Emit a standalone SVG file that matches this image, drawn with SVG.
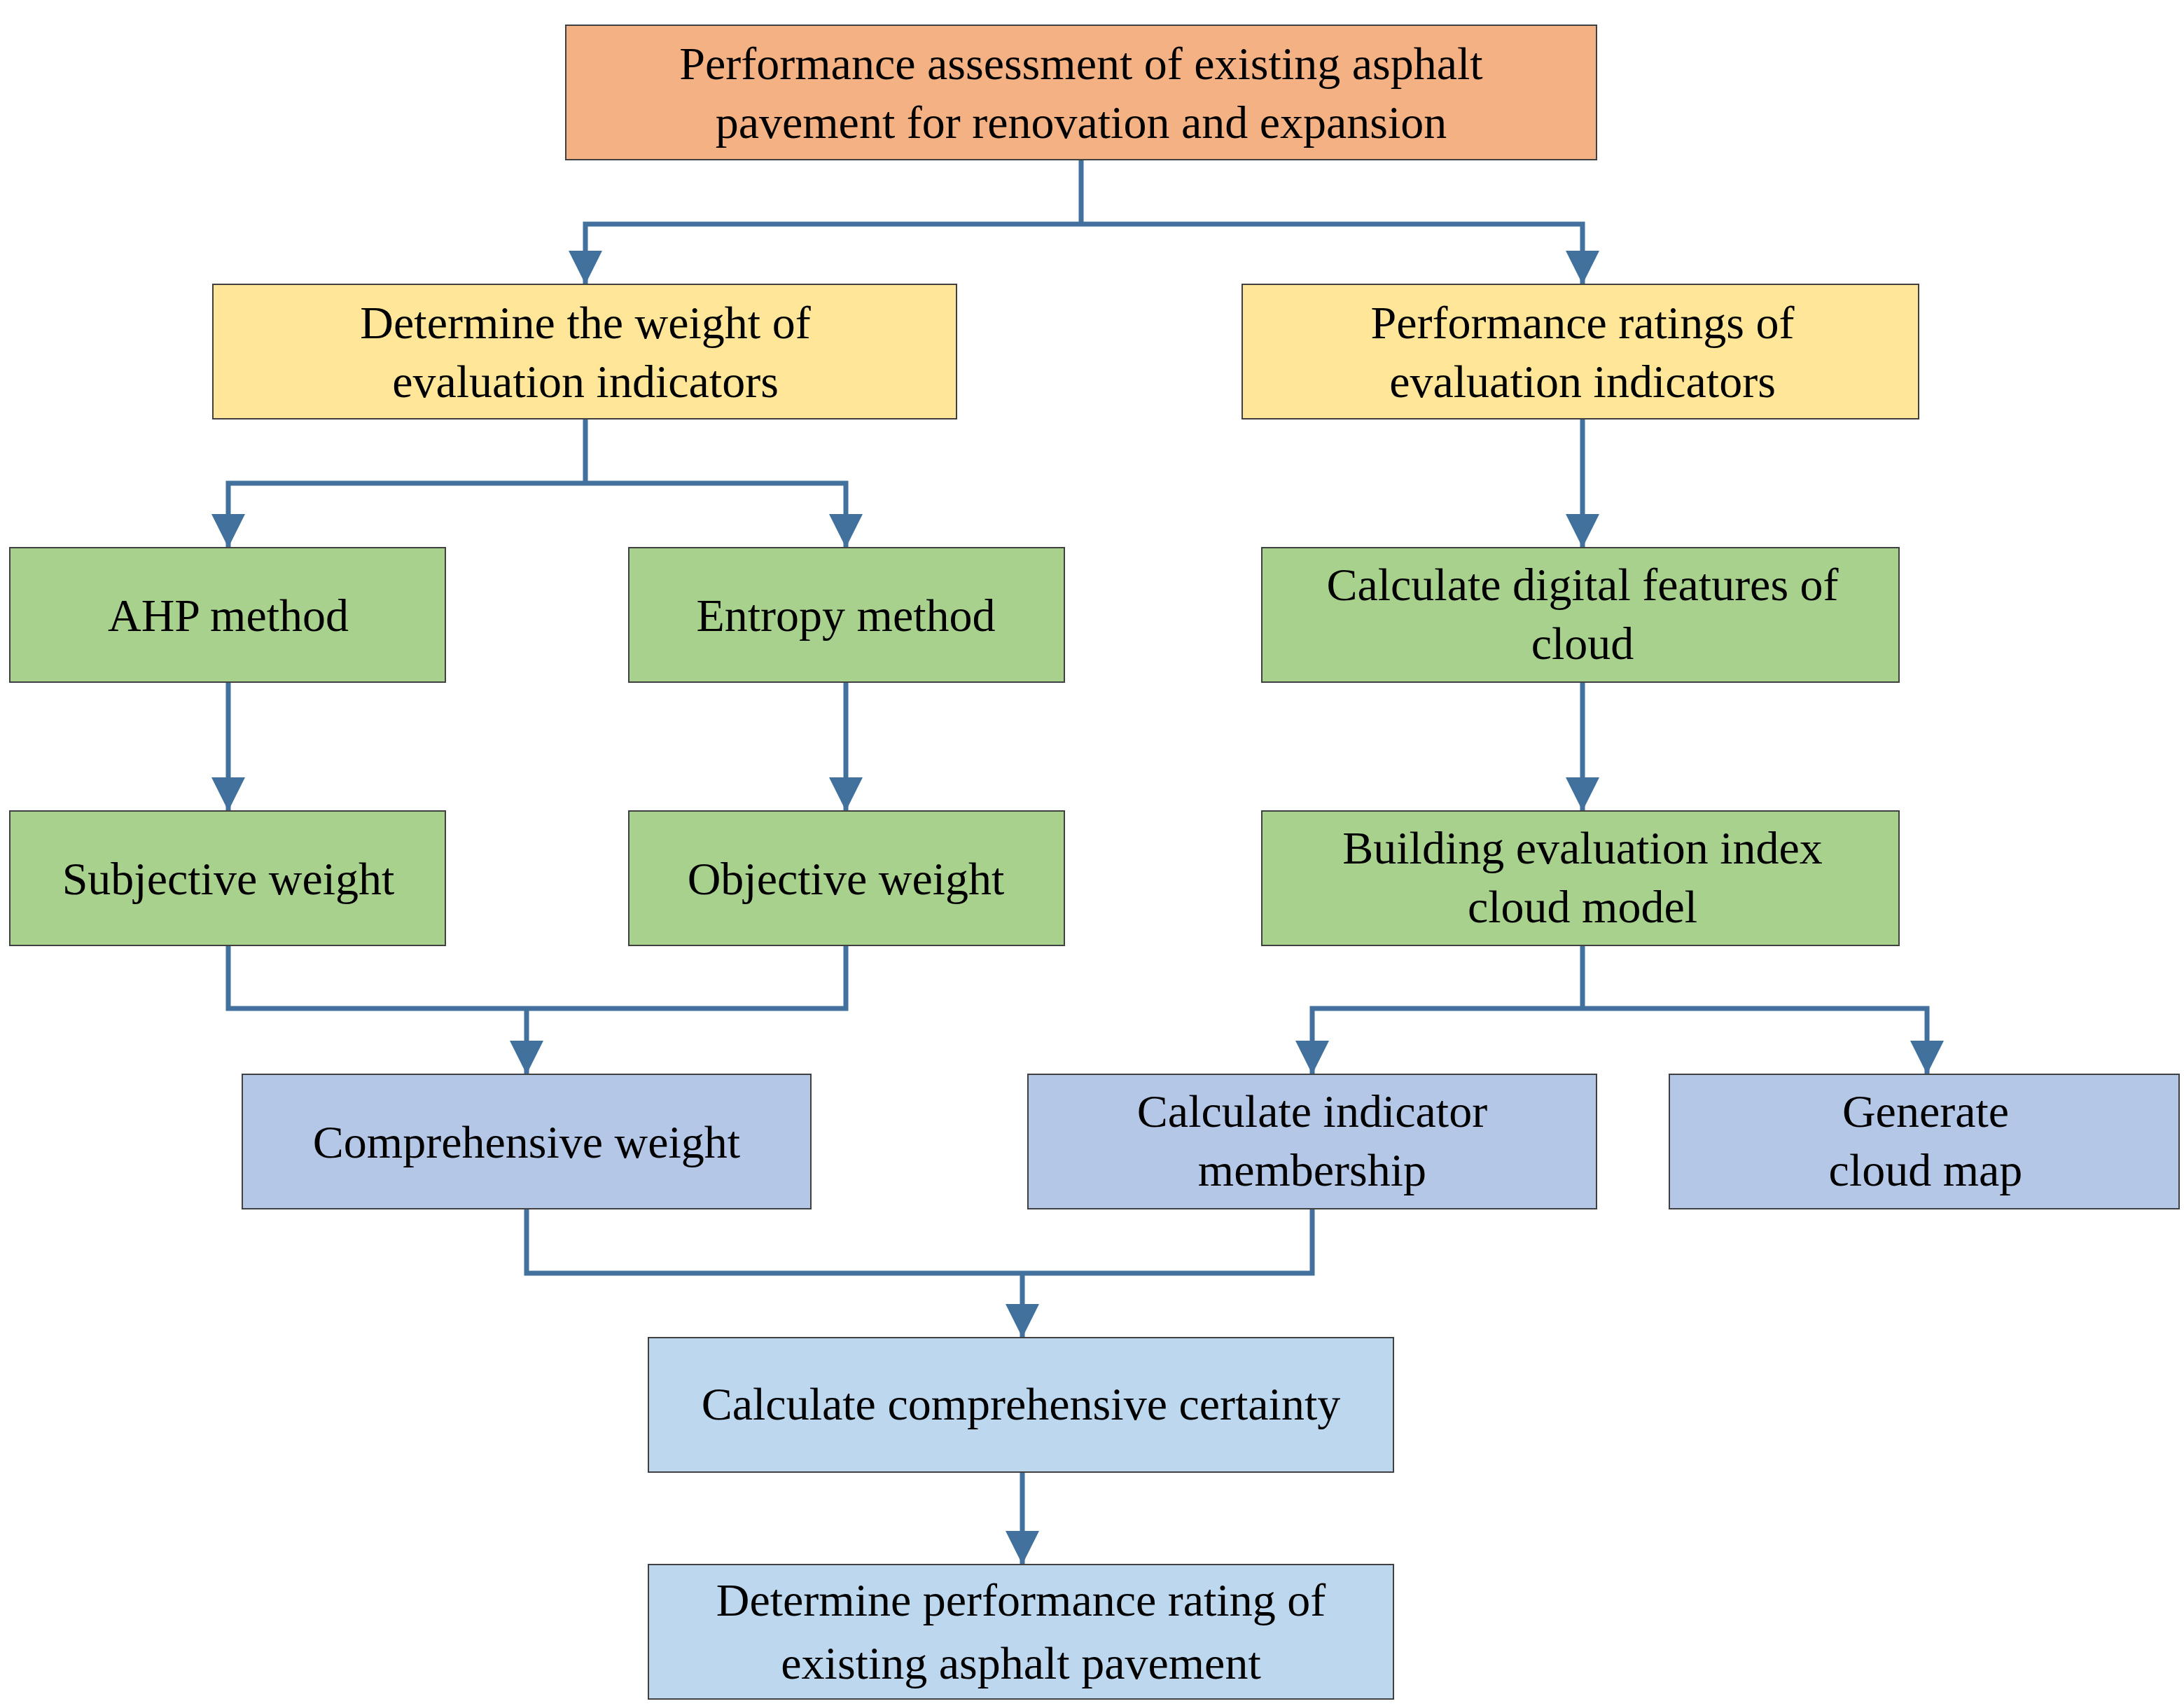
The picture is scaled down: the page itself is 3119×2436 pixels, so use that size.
<svg xmlns="http://www.w3.org/2000/svg" width="3119" height="2436" viewBox="0 0 3119 2436">
<style>
.b{stroke:#404040;stroke-width:2}
.t{font-family:"Liberation Serif","Times New Roman",serif;font-size:66px;fill:#000;text-anchor:middle;dominant-baseline:central}
.c{fill:none;stroke:#41719C;stroke-width:7}
</style>
<defs>
<marker id="a" markerUnits="userSpaceOnUse" markerWidth="48" markerHeight="46" refX="24" refY="44" orient="auto-start-reverse" viewBox="0 0 48 46">
<path d="M0,0 L48,0 L24,44 Z" fill="#41719C" transform="rotate(0)"/>
</marker>
</defs>
<rect width="3119" height="2436" fill="#fff"/>
<g id="connectors">
<path class="c" d="M1544,228 V320 H836 V406 M1544,320 H2260 V406" />
<path class="c" d="M836,598 V690 H326 V782 M836,690 H1208 V782"/>
<path class="c" d="M2260,598 V782"/>
<path class="c" d="M326,974 V1158"/>
<path class="c" d="M1208,974 V1158"/>
<path class="c" d="M2260,974 V1158"/>
<path class="c" d="M326,1350 V1440 H1208 V1350 M752,1440 V1534"/>
<path class="c" d="M2260,1350 V1440 H1874 V1534 M2260,1440 H2752 V1534"/>
<path class="c" d="M752,1726 V1818 H1874 V1726 M1460,1818 V1910"/>
<path class="c" d="M1460,2102 V2234"/>
<g fill="#41719C">
<path d="M812,358 H860 L836,406 Z"/>
<path d="M2236,358 H2284 L2260,406 Z"/>
<path d="M302,734 H350 L326,782 Z"/>
<path d="M1184,734 H1232 L1208,782 Z"/>
<path d="M2236,734 H2284 L2260,782 Z"/>
<path d="M302,1110 H350 L326,1158 Z"/>
<path d="M1184,1110 H1232 L1208,1158 Z"/>
<path d="M2236,1110 H2284 L2260,1158 Z"/>
<path d="M728,1486 H776 L752,1534 Z"/>
<path d="M1850,1486 H1898 L1874,1534 Z"/>
<path d="M2728,1486 H2776 L2752,1534 Z"/>
<path d="M1436,1862 H1484 L1460,1910 Z"/>
<path d="M1436,2186 H1484 L1460,2234 Z"/>
</g>
</g>
<g id="n0"><rect class="b" x="808" y="36" width="1472" height="192" fill="#F4B183"/><text class="t" x="1544" y="90">Performance assessment of existing asphalt</text><text class="t" x="1544" y="174">pavement for renovation and expansion</text></g>
<g id="n1"><rect class="b" x="304" y="406" width="1062" height="192" fill="#FFE699"/><text class="t" x="836" y="460">Determine the weight of</text><text class="t" x="836" y="544">evaluation indicators</text></g>
<g id="n2"><rect class="b" x="1774" y="406" width="966" height="192" fill="#FFE699"/><text class="t" x="2260" y="460">Performance ratings of</text><text class="t" x="2260" y="544">evaluation indicators</text></g>
<g id="n3"><rect class="b" x="14" y="782" width="622" height="192" fill="#A9D18E"/><text class="t" x="326" y="878">AHP method</text></g>
<g id="n4"><rect class="b" x="898" y="782" width="622" height="192" fill="#A9D18E"/><text class="t" x="1208" y="878">Entropy method</text></g>
<g id="n5"><rect class="b" x="1802" y="782" width="910" height="192" fill="#A9D18E"/><text class="t" x="2260" y="834">Calculate digital features of</text><text class="t" x="2260" y="918">cloud</text></g>
<g id="n6"><rect class="b" x="14" y="1158" width="622" height="192" fill="#A9D18E"/><text class="t" x="326" y="1254">Subjective weight</text></g>
<g id="n7"><rect class="b" x="898" y="1158" width="622" height="192" fill="#A9D18E"/><text class="t" x="1208" y="1254">Objective weight</text></g>
<g id="n8"><rect class="b" x="1802" y="1158" width="910" height="192" fill="#A9D18E"/><text class="t" x="2260" y="1210">Building evaluation index</text><text class="t" x="2260" y="1294">cloud model</text></g>
<g id="n9"><rect class="b" x="346" y="1534" width="812" height="192" fill="#B4C7E7"/><text class="t" x="752" y="1630">Comprehensive weight</text></g>
<g id="n10"><rect class="b" x="1468" y="1534" width="812" height="192" fill="#B4C7E7"/><text class="t" x="1874" y="1586">Calculate indicator</text><text class="t" x="1874" y="1670">membership</text></g>
<g id="n11"><rect class="b" x="2384" y="1534" width="728" height="192" fill="#B4C7E7"/><text class="t" x="2750" y="1586">Generate</text><text class="t" x="2750" y="1670">cloud map</text></g>
<g id="n12"><rect class="b" x="926" y="1910" width="1064" height="192" fill="#BDD7EE"/><text class="t" x="1458" y="2004">Calculate comprehensive certainty</text></g>
<g id="n13"><rect class="b" x="926" y="2234" width="1064" height="192" fill="#BDD7EE"/><text class="t" x="1458" y="2284">Determine performance rating of</text><text class="t" x="1458" y="2374">existing asphalt pavement</text></g>
</svg>
